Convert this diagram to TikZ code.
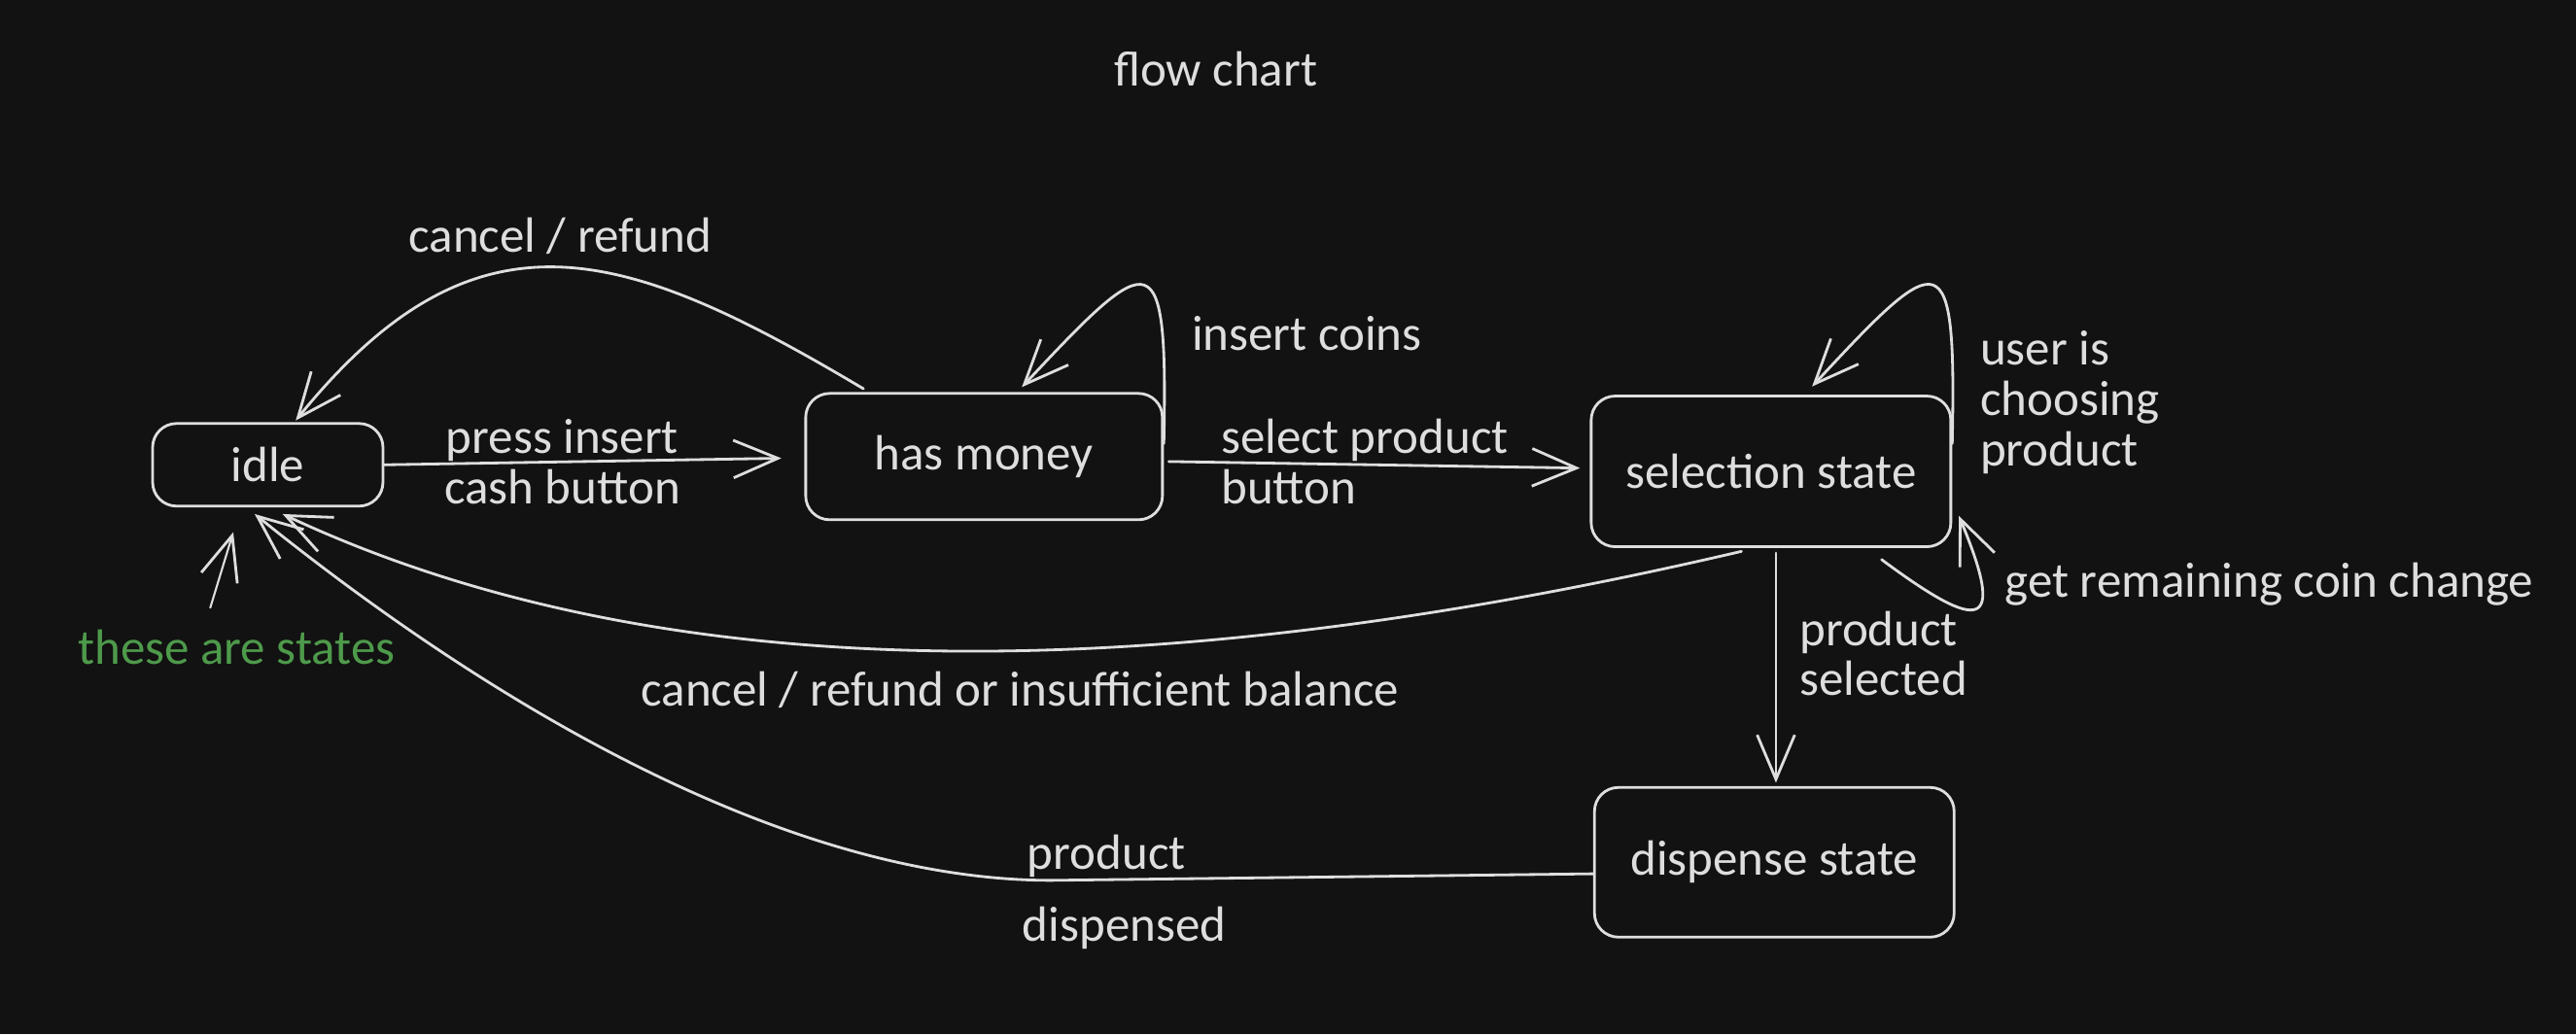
\documentclass[tikz,border=0pt]{standalone}
\usepackage{fontspec}
\setmainfont{Carlito}
\usetikzlibrary{positioning, calc, arrows.meta}
\definecolor{ink}{HTML}{DEDEDE}
\definecolor{bgdark}{HTML}{121212}
\definecolor{notegreen}{HTML}{4E9A4B}
\tikzstyle{Arrow} = [
%open sketch arrow:
ink, line width=0.8pt, line cap=round, line join=round,
-{Straight Barb[length=13pt, width=11pt, line width=0.8pt]}
]

\begin{document}
\begin{tikzpicture}[x=0.169mm, y=-0.169mm,
			statebox/.style = {rectangle, draw=ink, line width=0.8pt, rounded corners=7pt, text=ink, inner sep=0pt, font=\fontsize{14.5}{14.7}\selectfont},
			lbl/.style = {text=ink, inner sep=0pt, font=\fontsize{14.5}{14.7}\selectfont},
		]
		\path[use as bounding box, fill=bgdark] (0,0) rectangle (1568,629.6);

		\node[lbl](Title) at (740,42){flow chart};

		% states
		\node[statebox, minimum width=23.7mm, minimum height=8.5mm](Idle) at (163,283){idle};
		\node[statebox, minimum width=36.7mm, minimum height=13mm](Money) at (599,278){has money};
		\node[statebox, minimum width=37mm, minimum height=15.5mm](Select) at (1078,287){selection state};
		\node[statebox, minimum width=37mm, minimum height=15.4mm](Dispense) at (1080,525){dispense state};

		% straight transitions
		\draw[Arrow](Idle.east)--node[lbl, align=center, xshift=-6]{press insert\\cash button}($(Money.west)+(-14,1)$);
		\draw[Arrow]($(Money.east)+(3,3)$)--($(Select.west)+(-6,-2)$);
		\node[lbl, align=left, anchor=west](Lselect) at (743,281){select product\\button};
		\draw[Arrow]($(Select.south)+(3,3)$)--($(Dispense.north)+(1,-2)$);
		\node[lbl, align=left, anchor=west](Lselected) at (1095,398){product\\selected};

		% loops
		\draw[Arrow]($(Money.east)+(0,-8)$) .. controls (711,145) and (702,150) .. ($(Money.north)+(23,-3)$);
		\node[lbl, anchor=west](Lcoins) at (725,203){insert coins};
		\draw[Arrow]($(Select.east)+(0,-17)$) .. controls (1191,145) and (1182,150) .. ($(Select.north)+(25,-5)$);
		\node[lbl, align=left, anchor=west](Lchoose) at (1205,245){user is\\choosing\\product};
		\draw[Arrow]($(Select.south east)+(-43,7)$) .. controls (1205,385) and (1222,385) .. ($(Select.east)+(4,27)$);
		\node[lbl, anchor=west](Lchange) at (1220,356){get remaining coin change};

		% back to idle
		\draw[Arrow]($(Money.north west)+(36,-2)$) .. controls (380,150) and (290,120) .. ($(Idle.north)+(17,-1)$);
		\node[lbl](Lcancel) at (341,144){cancel / refund};
		\draw[Arrow]($(Select.south)+(-18,2)$) .. controls (700,420) and (400,420) .. ($(Idle.south)+(9,4)$);
		\node[lbl](Lrefund) at (621,420){cancel / refund or insufficient balance};
		\draw[Arrow]($(Dispense.west)+(0,7)$) -- (640,536) .. controls (480,536) and (300,430) .. ($(Idle.south)+(-8,4)$);
		\node[lbl, anchor=west](Lproduct) at (625,521){product};
		\node[lbl, anchor=west](Ldispensed) at (622,565){dispensed};

		% note
		\node[lbl, text=notegreen](Note) at (144,394){these are states};
		\draw[Arrow, line width=0.6pt]($(Note.north)+(-16,-13)$)--($(Idle.south)+(-21,15)$);

	\end{tikzpicture}
\end{document}
